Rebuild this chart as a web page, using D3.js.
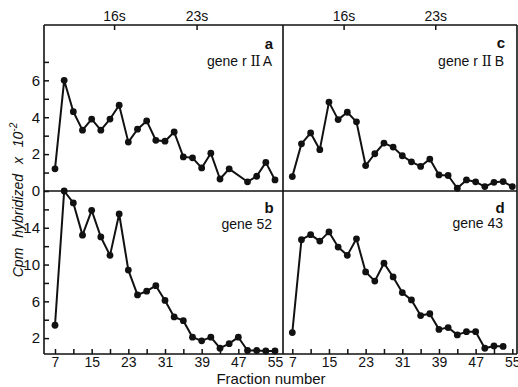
<!DOCTYPE html>
<html>
<head>
<meta charset="utf-8">
<script src="https://cdn.jsdelivr.net/npm/d3@7/dist/d3.min.js"></script>
<style>
  body { margin: 0; background: #fff; }
  svg { display: block; }
  text { font-family: "Liberation Sans", Arial, sans-serif; fill: #111; }
</style>
</head>
<body>
<div id="chart"></div>
<script>
// fraction numbers and cpm hybridized (x 10^-2) for each panel
const fractionsA = [7, 9, 11, 13, 15, 17, 19, 21, 23, 25, 27, 29, 31, 33, 35, 37, 39, 41, 43, 45, 49, 51, 53, 55];
const valuesA = [1.2, 6.0, 4.3, 3.3, 3.9, 3.3, 3.9, 4.65, 2.65, 3.35, 3.8, 2.75, 2.7, 3.2, 1.85, 1.8, 1.25, 2.05, 0.65, 1.2, 0.5, 0.8, 1.55, 0.6];

const fractionsB = [7, 9, 11, 13, 15, 17, 19, 21, 23, 25, 27, 29, 31, 33, 35, 37, 39, 41, 43, 45, 47, 49, 51, 53, 55];
const valuesB = [3.4, 18, 16.7, 13.2, 15.9, 13.0, 11.0, 15.5, 9.4, 6.7, 7.1, 7.7, 6.1, 4.3, 3.9, 2.1, 1.7, 2.1, 0.9, 1.4, 2.1, 0.65, 0.65, 0.6, 0.6];

const fractionsC = [7, 9, 11, 13, 15, 17, 19, 21, 23, 25, 27, 29, 31, 33, 35, 37, 39, 41, 43, 45, 47, 49, 51, 53, 55];
const valuesC = [0.78, 2.56, 3.15, 2.24, 4.82, 3.87, 4.27, 3.75, 1.38, 2.02, 2.6, 2.38, 1.91, 1.58, 1.33, 1.73, 0.87, 0.84, 0.15, 0.6, 0.5, 0.24, 0.47, 0.51, 0.24];

const fractionsD = [7, 9, 11, 13, 15, 17, 19, 21, 23, 25, 27, 29, 31, 33, 35, 37, 39, 41, 43, 45, 47, 49, 51, 53];
const valuesD = [2.6, 12.7, 13.25, 12.55, 13.55, 11.9, 11.0, 12.8, 9.2, 8.2, 10.15, 8.65, 6.95, 6.15, 4.45, 4.65, 2.95, 3.15, 2.35, 2.7, 2.7, 0.9, 1.15, 1.1];

// tick labels
const fractionTicks = [7, 11, 15, 19, 23, 27, 31, 35, 39, 43, 47, 51, 55];
const fractionLabels = [7, 15, 23, 31, 39, 47, 55];
const topTicks = [0, 1, 2, 3, 4, 5, 6, 7];
const topLabels = [0, 2, 4, 6];
const bottomTicks = [2, 4, 6, 8, 10, 12, 14, 16];
const bottomLabels = [2, 6, 10, 14];
const markerNames = ['16s', '23s'];
const markerFractionsLeft = [20, 38];
const markerFractionsRight = [18.3, 38.3];

const width = 518, height = 387;
const frame = { left: 44, mid: 283, right: 517, top: 25, center: 191, bottom: 354 };

const svg = d3.select('#chart').append('svg')
    .attr('width', width)
    .attr('height', height);

const xLeft = d3.scaleLinear().domain([7, 55]).range([55, 275]);
const xRight = d3.scaleLinear().domain([7, 55]).range([292.3, 512.3]);
const yTop = d3.scaleLinear().domain([0, 9]).range([frame.center, frame.top]);
const yBottom = d3.scaleLinear().domain([0, 18]).range([356.5, frame.center]);

// frame lines
const frameLines = [
    [frame.left, frame.top, frame.right, frame.top],
    [frame.left, frame.center, frame.right, frame.center],
    [frame.left, frame.bottom, frame.right, frame.bottom],
    [frame.left, frame.top, frame.left, frame.bottom],
    [frame.mid, frame.top, frame.mid, frame.bottom],
    [frame.right, frame.top, frame.right, frame.bottom]
];
svg.selectAll('.frame')
    .data(frameLines)
    .enter()
    .append('line')
    .attr('x1', d => d[0]).attr('y1', d => d[1])
    .attr('x2', d => d[2]).attr('y2', d => d[3])
    .attr('stroke', '#111')
    .attr('stroke-width', 1.6);

// bottom fraction axes, ticks pointing inward
function fractionAxis(x) {
    const axis = d3.axisBottom(x)
        .tickValues(fractionTicks)
        .tickSizeInner(-5)
        .tickSizeOuter(0)
        .tickPadding(3)
        .tickFormat(d => fractionLabels.includes(d) ? d : '');
    const g = svg.append('g')
        .attr('transform', `translate(0,${frame.bottom})`)
        .call(axis);
    g.select('.domain').remove();
    g.selectAll('line').attr('stroke', '#111').attr('stroke-width', 1.5);
    g.selectAll('text').style('font-size', '14px').attr('fill', '#111');
}
fractionAxis(xLeft);
fractionAxis(xRight);

// left y axes (only on left panels)
function valueAxis(y, ticks, labels) {
    const axis = d3.axisLeft(y)
        .tickValues(ticks)
        .tickSizeInner(-5)
        .tickSizeOuter(0)
        .tickPadding(4)
        .tickFormat(d => labels.includes(d) ? d : '');
    const g = svg.append('g')
        .attr('transform', `translate(${frame.left},0)`)
        .call(axis);
    g.select('.domain').remove();
    g.selectAll('line').attr('stroke', '#111').attr('stroke-width', 1.5);
    g.selectAll('text').style('font-size', '15px').attr('fill', '#111');
}
valueAxis(yTop, topTicks, topLabels);
valueAxis(yBottom, bottomTicks, bottomLabels);

// sedimentation markers on top
function markers(x, fr) {
    fr.forEach((f, i) => {
        svg.append('line')
            .attr('x1', x(f)).attr('x2', x(f))
            .attr('y1', frame.top).attr('y2', frame.top + 5)
            .attr('stroke', '#111').attr('stroke-width', 1.5);
        svg.append('text')
            .attr('x', x(f)).attr('y', 21)
            .attr('text-anchor', 'middle')
            .style('font-size', '14px')
            .text(markerNames[i]);
    });
}
markers(xLeft, markerFractionsLeft);
markers(xRight, markerFractionsRight);

const panels = [
    { key: 'a', gene: ['gene r ', 'II', ' A'], fr: fractionsA, vals: valuesA, x: xLeft, y: yTop, lx: 272, ly: 49, gy: 66 },
    { key: 'b', gene: ['gene 52'], fr: fractionsB, vals: valuesB, x: xLeft, y: yBottom, lx: 272, ly: 213, gy: 229 },
    { key: 'c', gene: ['gene r ', 'II', ' B'], fr: fractionsC, vals: valuesC, x: xRight, y: yTop, lx: 504, ly: 48, gy: 66 },
    { key: 'd', gene: ['gene 43'], fr: fractionsD, vals: valuesD, x: xRight, y: yBottom, lx: 503, ly: 213, gy: 228 }
];

panels.forEach(p => {
    const pts = p.fr.map((f, i) => [f, p.vals[i]]);
    const line = d3.line().x(d => p.x(d[0])).y(d => p.y(d[1]));

    svg.append('path')
        .datum(pts)
        .attr('d', line)
        .attr('fill', 'none')
        .attr('stroke', '#111')
        .attr('stroke-width', 2)
        .attr('stroke-linejoin', 'round');

    svg.selectAll('.dot-' + p.key)
        .data(pts)
        .enter()
        .append('circle')
        .attr('cx', d => p.x(d[0]))
        .attr('cy', d => p.y(d[1]))
        .attr('r', 3.4)
        .attr('fill', '#111');

    svg.append('text')
        .attr('x', p.lx - 3).attr('y', p.ly)
        .attr('text-anchor', 'middle')
        .style('font-size', '15px')
        .style('font-weight', 'bold')
        .text(p.key);

    const t = svg.append('text')
        .attr('x', p.lx).attr('y', p.gy)
        .attr('text-anchor', 'end')
        .style('font-size', '14px');
    p.gene.forEach(part => {
        const s = t.append('tspan').text(part);
        if (part === 'II') {
            s.style('font-family', '"DejaVu Serif", serif')
                .style('letter-spacing', '-1px');
        }
    });
});

// axis titles
svg.append('text')
    .attr('x', 271).attr('y', 384)
    .attr('text-anchor', 'middle')
    .style('font-size', '15px')
    .text('Fraction number');

const yTitle = svg.append('text')
    .attr('transform', 'translate(23,200) rotate(-90)')
    .attr('text-anchor', 'middle')
    .style('font-size', '14px')
    .style('font-style', 'italic')
    .style('word-spacing', '6px');
yTitle.append('tspan').text('Cpm hybridized x 10');
yTitle.append('tspan').attr('dy', -6).style('font-size', '10px').text('-2');
</script>
</body>
</html>
